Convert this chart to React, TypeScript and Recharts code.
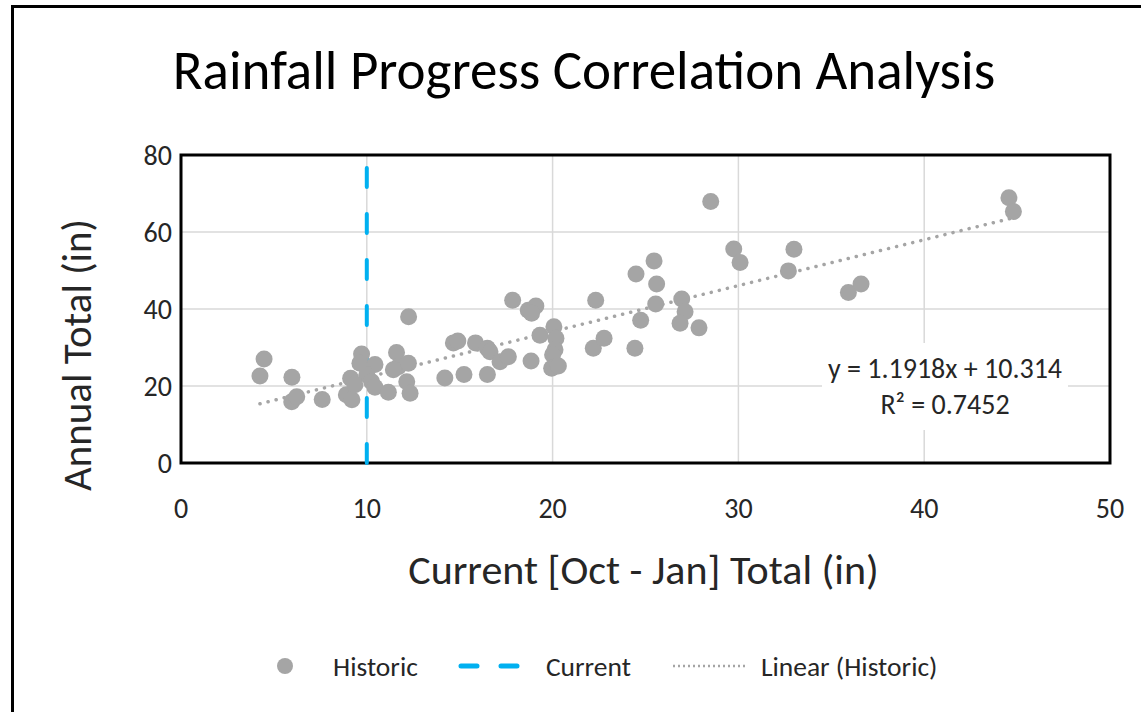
import React from "react";
import {
  ScatterChart,
  Scatter,
  XAxis,
  YAxis,
  CartesianGrid,
  ReferenceArea,
  Legend,
} from "recharts";

// Historic years: Oct-Jan total (x) vs annual total (y), inches
const historicX = [
  4.47, 4.25, 5.97, 5.96, 6.23, 7.6, 8.9, 9.2, 9.13, 9.72, 9.63, 10.44, 10.0,
  10.26, 10.44, 9.36, 11.16, 11.6, 11.7, 12.24, 11.43, 12.15, 12.33, 12.25,
  14.2, 15.23, 14.66, 14.9, 15.85, 16.49, 16.49, 16.63, 17.17, 17.62, 17.85,
  18.69, 19.1, 18.87, 18.84, 19.32, 20.07, 20.18, 20.13, 20.0, 19.95, 20.31,
  22.32, 22.19, 22.77, 24.43, 24.49, 24.74, 25.46, 25.6, 25.55, 26.95, 27.13,
  26.86, 27.88, 28.51, 29.75, 30.09, 32.99, 32.69, 35.92, 36.6, 44.56, 44.8,
];
const historicY = [
  27.0, 22.6, 22.3, 15.9, 17.2, 16.5, 17.7, 16.4, 22.0, 28.3, 25.9, 25.6, 22.9,
  21.1, 19.7, 20.3, 18.4, 28.7, 25.0, 25.9, 24.2, 21.1, 18.1, 38.0, 22.1, 23.0,
  31.2, 31.7, 31.2, 23.0, 29.8, 28.9, 26.3, 27.6, 42.3, 39.7, 40.8, 38.9, 26.5,
  33.2, 35.4, 32.4, 29.4, 28.1, 24.6, 25.2, 42.3, 29.8, 32.4, 29.8, 49.1, 37.1,
  52.5, 46.5, 41.3, 42.6, 39.3, 36.3, 35.1, 67.9, 55.6, 52.1, 55.5, 49.9, 44.3,
  46.5, 68.9, 65.3,
];

const currentTotal = 10;

// Excel linear trendline of the historic series
const slope = 1.1918;
const intercept = 10.314;
const rSquared = 0.7452;

const xTicks = [0, 10, 20, 30, 40, 50];
const yTicks = [0, 20, 40, 60, 80];

const historicData = historicX.map((x, i) => ({ x, y: historicY[i] }));
const xMin = Math.min(...historicX);
const xMax = Math.max(...historicX);
const trendData = [
  { x: xMin, y: slope * xMin + intercept },
  { x: xMax, y: slope * xMax + intercept },
];
const currentData = [
  { x: currentTotal, y: yTicks[0] },
  { x: currentTotal, y: yTicks[yTicks.length - 1] },
];

const FONT = "Carlito, Lato, 'Open Sans', sans-serif";
const GRAY = "#a5a5a5";
const BLUE = "#00b0f0";
const TEXT = "#262626";

const hidden = () => <g />;

const Dot = (props: any) => (
  <circle cx={props.cx} cy={props.cy} r={8.5} fill={GRAY} />
);

const YLabel = (props: any) => {
  const vb = props.viewBox || { x: 0, y: 155, height: 308 };
  const cx = vb.x + 77;
  const cy = vb.y + vb.height / 2 + 46;
  return (
    <text
      x={cx}
      y={cy}
      transform={`rotate(-90 ${cx} ${cy})`}
      textAnchor="middle"
      dominantBaseline="central"
      fontFamily={FONT}
      fontSize={41}
      fill={TEXT}
    >
      Annual Total (in)
    </text>
  );
};

const XLabel = (props: any) => {
  const vb = props.viewBox || { x: 181, y: 463, width: 929 };
  return (
    <text
      x={vb.x + vb.width / 2 - 2}
      y={vb.y + 121}
      textAnchor="middle"
      fontFamily={FONT}
      fontSize={42}
      fill={TEXT}
    >
      Current [Oct - Jan] Total (in)
    </text>
  );
};

const legendText = { fontFamily: FONT, fontSize: 27.5, color: TEXT };

const LegendRow = () => (
  <div style={{ display: "flex", alignItems: "center", height: 40, paddingLeft: 275 }}>
    <svg width={20} height={20}>
      <circle cx={10} cy={10} r={8} fill={GRAY} />
    </svg>
    <span style={{ ...legendText, marginLeft: 38 }}>Historic</span>
    <svg width={66} height={20} style={{ marginLeft: 40 }}>
      <line x1={3} y1={10} x2={64} y2={10} stroke={BLUE} strokeWidth={5}
        strokeDasharray="16 24" strokeLinecap="round" />
    </svg>
    <span style={{ ...legendText, marginLeft: 22 }}>Current</span>
    <svg width={74} height={20} style={{ marginLeft: 42 }}>
      <line x1={0} y1={10} x2={74} y2={10} stroke={GRAY} strokeWidth={2.5}
        strokeDasharray="2 3" />
    </svg>
    <span style={{ ...legendText, marginLeft: 14 }}>Linear (Historic)</span>
  </div>
);

const App = () => {
  return (
    <div
      style={{
        position: "absolute",
        left: 0,
        top: 0,
        width: 1141,
        height: 712,
        overflow: "hidden",
        background: "#fff",
      }}
    >
      <div
        style={{
          position: "absolute",
          left: 11,
          top: 5,
          width: 1200,
          height: 800,
          border: "3px solid #000",
        }}
      />
      <div
        style={{
          position: "absolute",
          left: 0,
          top: 41,
          width: 1168,
          textAlign: "center",
          fontFamily: FONT,
          fontSize: 55,
          lineHeight: "60px",
          color: "#000",
          whiteSpace: "nowrap",
        }}
      >
        Rainfall Progress Correlation Analysis
      </div>
      <div style={{ position: "absolute", left: 0, top: 0 }}>
        <ScatterChart
          width={1141}
          height={712}
          margin={{ top: 155, right: 31, left: 0, bottom: 26 }}
        >
          <CartesianGrid stroke="#d9d9d9" strokeWidth={1.5} />
          <XAxis
            type="number"
            dataKey="x"
            domain={[0, 50]}
            ticks={xTicks}
            interval={0}
            height={183}
            tickLine={false}
            axisLine={false}
            tickSize={0}
            tickMargin={35}
            tick={{ fill: TEXT, fontSize: 28, fontFamily: FONT }}
            label={<XLabel />}
          />
          <YAxis
            type="number"
            dataKey="y"
            domain={[0, 80]}
            ticks={yTicks}
            interval={0}
            width={181}
            tickLine={false}
            axisLine={false}
            tickSize={0}
            tickMargin={9}
            tick={{ fill: TEXT, fontSize: 28, fontFamily: FONT }}
            label={<YLabel />}
          />
          <Scatter
            name="Current"
            data={currentData}
            line={{
              stroke: BLUE,
              strokeWidth: 4,
              strokeDasharray: "19 27",
              strokeLinecap: "round",
            }}
            lineType="joint"
            shape={hidden}
            legendType="none"
            isAnimationActive={false}
          />
          <Scatter
            name="Linear (Historic)"
            data={trendData}
            line={{
              stroke: GRAY,
              strokeWidth: 3.5,
              strokeDasharray: "0.1 8.2",
              strokeLinecap: "round",
            }}
            lineType="joint"
            shape={hidden}
            legendType="none"
            isAnimationActive={false}
          />
          <Scatter
            name="Historic"
            data={historicData}
            shape={Dot}
            isAnimationActive={false}
          />
          <ReferenceArea
            x1={0}
            x2={50}
            y1={0}
            y2={80}
            fill="none"
            fillOpacity={0}
            stroke="#000"
            strokeWidth={3}
          />
          <Legend verticalAlign="bottom" content={() => <LegendRow />} />
        </ScatterChart>
      </div>
      <div
        style={{
          position: "absolute",
          left: 822,
          top: 343,
          width: 246,
          height: 87,
          background: "#fff",
          display: "flex",
          flexDirection: "column",
          justifyContent: "center",
          alignItems: "center",
          fontFamily: FONT,
          fontSize: 28,
          lineHeight: "36px",
          color: TEXT,
          whiteSpace: "nowrap",
        }}
      >
        <div>y = {slope}x + {intercept}</div>
        <div>R² = {rSquared}</div>
      </div>
    </div>
  );
};

export default App;
